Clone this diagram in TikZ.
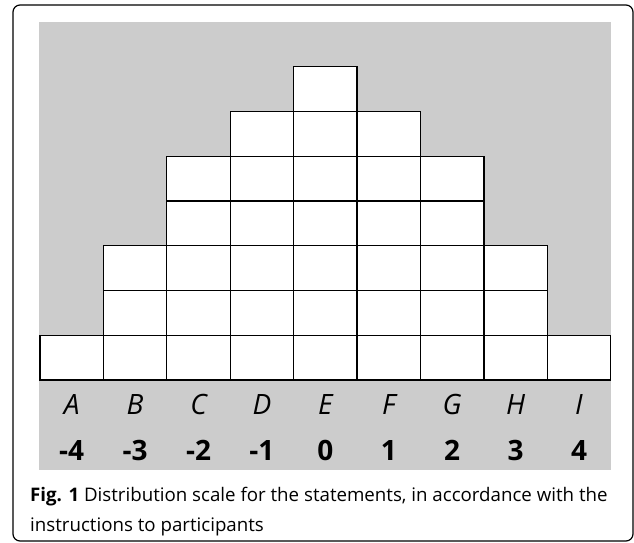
\documentclass[tikz,border=0pt]{standalone}
\usepackage{fontspec}
\setmainfont{Open Sans}
\definecolor{panelgray}{RGB}{204,204,204}
\tikzset{
  cell/.style={draw, line width=1.3pt, fill=white, rectangle, anchor=south west,
    minimum width=63.41pt, minimum height=44.76pt, inner sep=0pt, outer sep=0pt},
  letter/.style={anchor=base, font=\fontsize{28}{30}\selectfont\itshape},
  score/.style={anchor=base, font=\fontsize{28}{30}\selectfont\bfseries},
  captext/.style={anchor=base west, inner sep=0pt, font=\fontsize{18.7}{30}\selectfont},
}
\begin{document}
\begin{tikzpicture}[x=1pt, y=1pt]
  \useasboundingbox (0,0) rectangle (634,543);
  \draw[line width=1.2pt, rounded corners=7pt] (13,2) rectangle (633,538);
  \fill[panelgray] (39,73) rectangle (611,521.3);
\begin{scope}[shift={(40pt,163pt)}, x=63.41pt, y=44.76pt]
  % column A
  \node[cell] (a1) at (0,0) {};
  % column B
  \node[cell] (b1) at (1,0) {};
  \node[cell] (b2) at (1,1) {};
  \node[cell] (b3) at (1,2) {};
  % column C
  \node[cell] (c1) at (2,0) {};
  \node[cell] (c2) at (2,1) {};
  \node[cell] (c3) at (2,2) {};
  \node[cell] (c4) at (2,3) {};
  \node[cell] (c5) at (2,4) {};
  % column D
  \node[cell] (d1) at (3,0) {};
  \node[cell] (d2) at (3,1) {};
  \node[cell] (d3) at (3,2) {};
  \node[cell] (d4) at (3,3) {};
  \node[cell] (d5) at (3,4) {};
  \node[cell] (d6) at (3,5) {};
  % column E
  \node[cell] (e1) at (4,0) {};
  \node[cell] (e2) at (4,1) {};
  \node[cell] (e3) at (4,2) {};
  \node[cell] (e4) at (4,3) {};
  \node[cell] (e5) at (4,4) {};
  \node[cell] (e6) at (4,5) {};
  \node[cell] (e7) at (4,6) {};
  % column F
  \node[cell] (f1) at (5,0) {};
  \node[cell] (f2) at (5,1) {};
  \node[cell] (f3) at (5,2) {};
  \node[cell] (f4) at (5,3) {};
  \node[cell] (f5) at (5,4) {};
  \node[cell] (f6) at (5,5) {};
  % column G
  \node[cell] (g1) at (6,0) {};
  \node[cell] (g2) at (6,1) {};
  \node[cell] (g3) at (6,2) {};
  \node[cell] (g4) at (6,3) {};
  \node[cell] (g5) at (6,4) {};
  % column H
  \node[cell] (h1) at (7,0) {};
  \node[cell] (h2) at (7,1) {};
  \node[cell] (h3) at (7,2) {};
  % column I
  \node[cell] (i1) at (8,0) {};
  % letters and scores
  \node[letter] (la) at (0.5,-0.78) {A};
  \node[score]  (sa) at (0.5,-1.79) {-4};
  \node[letter] (lb) at (1.5,-0.78) {B};
  \node[score]  (sb) at (1.5,-1.79) {-3};
  \node[letter] (lc) at (2.5,-0.78) {C};
  \node[score]  (sc) at (2.5,-1.79) {-2};
  \node[letter] (ld) at (3.5,-0.78) {D};
  \node[score]  (sd) at (3.5,-1.79) {-1};
  \node[letter] (le) at (4.5,-0.78) {E};
  \node[score]  (se) at (4.5,-1.79) {0};
  \node[letter] (lf) at (5.5,-0.78) {F};
  \node[score]  (sf) at (5.5,-1.79) {1};
  \node[letter] (lg) at (6.5,-0.78) {G};
  \node[score]  (sg) at (6.5,-1.79) {2};
  \node[letter] (lh) at (7.5,-0.78) {H};
  \node[score]  (sh) at (7.5,-1.79) {3};
  \node[letter] (li) at (8.5,-0.78) {I};
  \node[score]  (si) at (8.5,-1.79) {4};
\end{scope}
  \node[captext] (caption1) at (30,41.3)
    {\textbf{Fig. 1} Distribution scale for the statements, in accordance with the};
  \node[captext] (caption2) at (30,11.3)
    {instructions to participants};
\end{tikzpicture}
\end{document}
